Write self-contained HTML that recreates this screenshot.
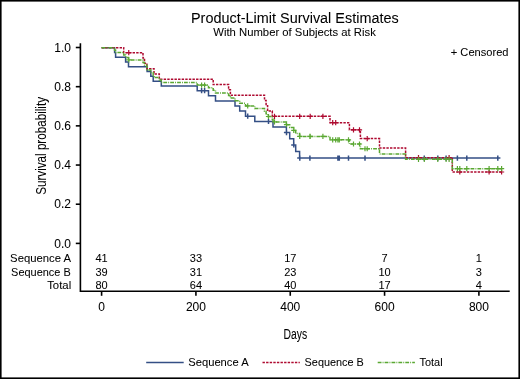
<!DOCTYPE html>
<html><head><meta charset="utf-8"><title>Product-Limit Survival Estimates</title>
<style>html,body{margin:0;padding:0;background:#fff;width:520px;height:379px;overflow:hidden;}svg{display:block;will-change:transform;transform:translateZ(0)}</style>
</head><body>
<svg width="520" height="379" viewBox="0 0 520 379"><rect x="0" y="0" width="520" height="379" fill="#fff"/><g fill="none" stroke-width="1.5"><path d="M101.60,47.70 L114.60,47.70 L114.60,52.48 L115.60,52.48 L115.60,57.26 L125.60,57.26 L125.60,62.03 L128.50,62.03 L128.50,66.81 L147.10,66.81 L147.10,71.59 L150.80,71.59 L150.80,76.37 L153.20,76.37 L153.20,81.15 L161.30,81.15 L161.30,85.92 L197.20,85.92 L197.20,90.70 L208.50,90.70 L208.50,95.80 L215.50,95.80 L215.50,100.90 L235.00,100.90 L235.00,105.99 L239.70,105.99 L239.70,111.09 L245.50,111.09 L245.50,116.19 L254.80,116.19 L254.80,121.49 L273.00,121.49 L273.00,127.04 L286.40,127.04 L286.40,132.59 L289.70,132.59 L289.70,138.76 L293.70,138.76 L293.70,144.93 L295.70,144.93 L295.70,151.51 L299.60,151.51 L299.60,158.08 L497.80,158.08M199.00,90.70h5.20M201.60,88.10v5.20M202.00,90.70h5.20M204.60,88.10v5.20M245.10,116.19h5.20M247.70,113.59v5.20M265.90,121.49h5.20M268.50,118.89v5.20M283.90,132.59h5.20M286.50,129.99v5.20M291.20,144.93h5.20M293.80,142.33v5.20M297.20,158.08h5.20M299.80,155.48v5.20M307.30,158.08h5.20M309.90,155.48v5.20M335.30,158.08h5.20M337.90,155.48v5.20M336.70,158.08h5.20M339.30,155.48v5.20M345.90,158.08h5.20M348.50,155.48v5.20M362.40,158.08h5.20M365.00,155.48v5.20M421.70,158.08h5.20M424.30,155.48v5.20M435.20,158.08h5.20M437.80,155.48v5.20M443.50,158.08h5.20M446.10,155.48v5.20M454.80,158.08h5.20M457.40,155.48v5.20M464.20,158.08h5.20M466.80,155.48v5.20M495.20,158.08h5.20M497.80,155.48v5.20" stroke="#344F85"/><path d="M101.60,47.70 L123.70,47.70 L123.70,52.72 L143.00,52.72 L143.00,58.03 L144.50,58.03 L144.50,63.33 L146.90,63.33 L146.90,68.63 L154.00,68.63 L154.00,73.93 L159.30,73.93 L159.30,79.23 L213.20,79.23 L213.20,84.54 L228.60,84.54 L228.60,89.84 L230.40,89.84 L230.40,95.14 L264.50,95.14 L264.50,100.44 L266.10,100.44 L266.10,105.74 L267.60,105.74 L267.60,111.05 L272.30,111.05 L272.30,116.35 L330.00,116.35 L330.00,122.71 L349.40,122.71 L349.40,129.82 L360.40,129.82 L360.40,138.57 L379.50,138.57 L379.50,148.12 L405.60,148.12 L405.60,157.67 L452.30,157.67 L452.30,171.99 L501.60,171.99" stroke="#AE0A30" stroke-dasharray="2.4 1.2"/><path d="M126.15,52.72h5.20M128.75,50.12v5.20M271.90,116.35h5.20M274.50,113.75v5.20M297.10,116.35h5.20M299.70,113.75v5.20M307.60,116.35h5.20M310.20,113.75v5.20M320.30,116.35h5.20M322.90,113.75v5.20M330.10,122.71h5.20M332.70,120.11v5.20M333.10,122.71h5.20M335.70,120.11v5.20M350.90,129.82h5.20M353.50,127.22v5.20M356.90,129.82h5.20M359.50,127.22v5.20M364.60,138.57h5.20M367.20,135.97v5.20M415.90,157.67h5.20M418.50,155.07v5.20M446.50,157.67h5.20M449.10,155.07v5.20M457.20,171.99h5.20M459.80,169.39v5.20M486.50,171.99h5.20M489.10,169.39v5.20M499.00,171.99h5.20M501.60,169.39v5.20" stroke="#AE0A30" stroke-width="1.2"/><path d="M101.60,47.70 L114.60,47.70 L114.60,50.15 L115.60,50.15 L115.60,52.60 L123.70,52.60 L123.70,55.05 L125.60,55.05 L125.60,57.49 L128.50,57.49 L128.50,59.94 L143.00,59.94 L143.00,62.46 L144.50,62.46 L144.50,64.98 L146.90,64.98 L146.90,67.49 L147.10,67.49 L147.10,70.01 L150.80,70.01 L150.80,72.52 L153.20,72.52 L153.20,75.04 L154.00,75.04 L154.00,77.55 L159.30,77.55 L159.30,80.07 L161.30,80.07 L161.30,82.59 L197.20,82.59 L197.20,85.10 L208.50,85.10 L208.50,87.70 L213.20,87.70 L213.20,90.30 L215.50,90.30 L215.50,92.90 L228.60,92.90 L228.60,95.50 L230.40,95.50 L230.40,98.09 L235.00,98.09 L235.00,100.69 L239.70,100.69 L239.70,103.29 L245.50,103.29 L245.50,105.89 L254.80,105.89 L254.80,108.54 L264.50,108.54 L264.50,111.19 L266.10,111.19 L266.10,113.83 L267.60,113.83 L267.60,116.48 L272.30,116.48 L272.30,119.19 L273.00,119.19 L273.00,121.89 L286.40,121.89 L286.40,124.66 L289.70,124.66 L289.70,127.56 L293.70,127.56 L293.70,130.46 L295.70,130.46 L295.70,133.44 L299.60,133.44 L299.60,136.41 L330.00,136.41 L330.00,139.87 L349.40,139.87 L349.40,144.02 L360.40,144.02 L360.40,148.76 L379.50,148.76 L379.50,154.03 L405.60,154.03 L405.60,159.30 L452.30,159.30 L452.30,168.67 L501.60,168.67" stroke="#5AA832" stroke-dasharray="3.8 1.1 0.9 1.1"/><path d="M126.15,59.94h5.20M128.75,57.34v5.20M199.00,85.10h5.20M201.60,82.50v5.20M202.00,85.10h5.20M204.60,82.50v5.20M245.10,105.89h5.20M247.70,103.29v5.20M265.90,116.48h5.20M268.50,113.88v5.20M271.90,121.89h5.20M274.50,119.29v5.20M283.90,124.66h5.20M286.50,122.06v5.20M291.20,130.46h5.20M293.80,127.86v5.20M297.10,136.41h5.20M299.70,133.81v5.20M297.20,136.41h5.20M299.80,133.81v5.20M307.30,136.41h5.20M309.90,133.81v5.20M307.60,136.41h5.20M310.20,133.81v5.20M320.30,136.41h5.20M322.90,133.81v5.20M330.10,139.87h5.20M332.70,137.27v5.20M333.10,139.87h5.20M335.70,137.27v5.20M335.30,139.87h5.20M337.90,137.27v5.20M336.70,139.87h5.20M339.30,137.27v5.20M345.90,139.87h5.20M348.50,137.27v5.20M350.90,144.02h5.20M353.50,141.42v5.20M356.90,144.02h5.20M359.50,141.42v5.20M362.40,148.76h5.20M365.00,146.16v5.20M364.60,148.76h5.20M367.20,146.16v5.20M415.90,159.30h5.20M418.50,156.70v5.20M421.70,159.30h5.20M424.30,156.70v5.20M435.20,159.30h5.20M437.80,156.70v5.20M443.50,159.30h5.20M446.10,156.70v5.20M446.50,159.30h5.20M449.10,156.70v5.20M454.80,168.67h5.20M457.40,166.07v5.20M457.20,168.67h5.20M459.80,166.07v5.20M464.20,168.67h5.20M466.80,166.07v5.20M486.50,168.67h5.20M489.10,166.07v5.20M495.20,168.67h5.20M497.80,166.07v5.20M499.00,168.67h5.20M501.60,166.07v5.20" stroke="#5AA832" stroke-width="1.2"/></g><g stroke="#000" stroke-width="1.6" fill="none"><path d="M80.4,43.2 V291.2 H509.7"/><path d="M75.8,47.50 H80.4"/><path d="M75.8,86.68 H80.4"/><path d="M75.8,125.86 H80.4"/><path d="M75.8,165.04 H80.4"/><path d="M75.8,204.22 H80.4"/><path d="M75.8,243.40 H80.4"/><path d="M101.60,291.2 V295.8"/><path d="M195.92,291.2 V295.8"/><path d="M290.25,291.2 V295.8"/><path d="M384.57,291.2 V295.8"/><path d="M478.90,291.2 V295.8"/></g><g font-family='"Liberation Sans", sans-serif' fill="#000" stroke="#000" stroke-width="0.05"><text x="70.9" y="51.70" font-size="12" text-anchor="end">1.0</text><text x="70.9" y="90.88" font-size="12" text-anchor="end">0.8</text><text x="70.9" y="130.06" font-size="12" text-anchor="end">0.6</text><text x="70.9" y="169.24" font-size="12" text-anchor="end">0.4</text><text x="70.9" y="208.42" font-size="12" text-anchor="end">0.2</text><text x="70.9" y="247.60" font-size="12" text-anchor="end">0.0</text><text x="101.60" y="310.5" font-size="12" text-anchor="middle">0</text><text x="195.92" y="310.5" font-size="12" text-anchor="middle">200</text><text x="290.25" y="310.5" font-size="12" text-anchor="middle">400</text><text x="384.57" y="310.5" font-size="12" text-anchor="middle">600</text><text x="478.90" y="310.5" font-size="12" text-anchor="middle">800</text><text x="10.1" y="262.3" font-size="11" textLength="61.0" lengthAdjust="spacingAndGlyphs">Sequence A</text><text x="101.60" y="262.3" font-size="11" text-anchor="middle">41</text><text x="195.92" y="262.3" font-size="11" text-anchor="middle">33</text><text x="290.25" y="262.3" font-size="11" text-anchor="middle">17</text><text x="384.57" y="262.3" font-size="11" text-anchor="middle">7</text><text x="478.90" y="262.3" font-size="11" text-anchor="middle">1</text><text x="11.1" y="275.5" font-size="11" textLength="59.6" lengthAdjust="spacingAndGlyphs">Sequence B</text><text x="101.60" y="275.5" font-size="11" text-anchor="middle">39</text><text x="195.92" y="275.5" font-size="11" text-anchor="middle">31</text><text x="290.25" y="275.5" font-size="11" text-anchor="middle">23</text><text x="384.57" y="275.5" font-size="11" text-anchor="middle">10</text><text x="478.90" y="275.5" font-size="11" text-anchor="middle">3</text><text x="47.2" y="288.5" font-size="11" textLength="24.0" lengthAdjust="spacingAndGlyphs">Total</text><text x="101.60" y="288.5" font-size="11" text-anchor="middle">80</text><text x="195.92" y="288.5" font-size="11" text-anchor="middle">64</text><text x="290.25" y="288.5" font-size="11" text-anchor="middle">40</text><text x="384.57" y="288.5" font-size="11" text-anchor="middle">17</text><text x="478.90" y="288.5" font-size="11" text-anchor="middle">4</text><text x="191.0" y="22.7" font-size="14" textLength="207.7" lengthAdjust="spacingAndGlyphs">Product-Limit Survival Estimates</text><text x="213.3" y="35.9" font-size="10.5" textLength="162.5" lengthAdjust="spacingAndGlyphs">With Number of Subjects at Risk</text><text x="450.8" y="55.8" font-size="11" textLength="57.7" lengthAdjust="spacingAndGlyphs">+ Censored</text><text x="283.6" y="338.6" font-size="13.8" textLength="23.6" lengthAdjust="spacingAndGlyphs">Days</text><text transform="translate(46.2,194.8) rotate(-90)" x="0" y="0" font-size="14.5" textLength="97.8" lengthAdjust="spacingAndGlyphs">Survival probability</text><path d="M146.2,362.4 H183.7" stroke="#344F85" stroke-width="1.5"/><path d="M262.5,362.4 H299.8" stroke="#AE0A30" stroke-width="1.5" stroke-dasharray="2.4 1.2"/><path d="M377.7,362.4 H414.9" stroke="#5AA832" stroke-width="1.5" stroke-dasharray="3.8 1.1 0.9 1.1"/><text x="188.3" y="366.3" font-size="11" textLength="60.3" lengthAdjust="spacingAndGlyphs">Sequence A</text><text x="304.6" y="366.3" font-size="11" textLength="59.2" lengthAdjust="spacingAndGlyphs">Sequence B</text><text x="419.5" y="366.3" font-size="11" textLength="23.1" lengthAdjust="spacingAndGlyphs">Total</text></g><rect x="0.8" y="0.8" width="518.4" height="377.4" fill="none" stroke="#000" stroke-width="1.6"/></svg>
</body></html>
